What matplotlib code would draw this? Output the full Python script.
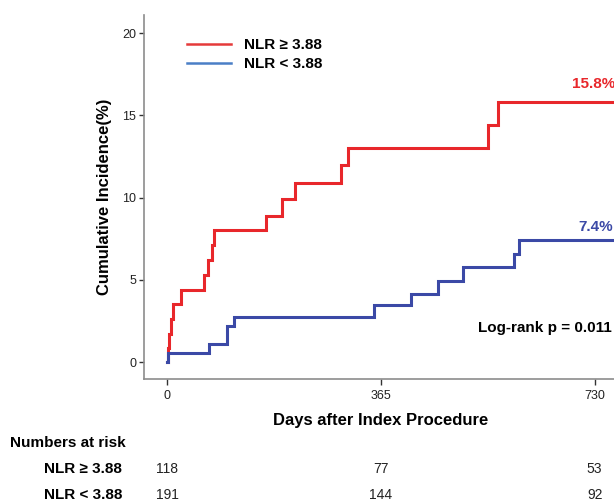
import matplotlib
matplotlib.use("Agg")
import matplotlib.pyplot as plt
from matplotlib.lines import Line2D

plt.rcParams['font.family'] = ['Liberation Sans', 'DejaVu Sans']

# step curves (days, cumulative incidence %)
high_days = [0, 1, 3, 6, 9, 23, 63, 70, 77, 79, 169, 195, 218, 296, 308, 548, 564, 770]
high_inc = [0, 0.85, 1.7, 2.6, 3.5, 4.4, 5.3, 6.2, 7.1, 8.0, 8.9, 9.9, 10.9, 12.0, 13.0, 14.4, 15.8, 15.8]
low_days = [0, 1, 71, 101, 113, 353, 416, 463, 505, 593, 601, 770]
low_inc = [0, 0.55, 1.1, 2.2, 2.75, 3.45, 4.15, 4.95, 5.75, 6.55, 7.4, 7.4]

groups = ["NLR \u2265 3.88", "NLR < 3.88"]
end_labels = ["15.8%", "7.4%"]
risk_times = [0, 365, 730]
risk_high = [118, 77, 53]
risk_low = [191, 144, 92]
p_text = "Log-rank p = 0.011"

RED = '#e8272b'
BLUE = '#3b49a6'

W, H = 614, 504


def fx(px):
    return px / W


def fy(py):
    return 1 - py / H


fig = plt.figure(figsize=(6.14, 5.04), dpi=100)
ax = fig.add_axes([fx(144), fy(379), fx(614) - fx(144), fy(15) - fy(379)])

ax.step(high_days, high_inc, where='post', color=RED, lw=2.2, solid_joinstyle='miter')
ax.step(low_days, low_inc, where='post', color=BLUE, lw=2.2, solid_joinstyle='miter')

ax.set_xlim(-40, 763)
ax.set_ylim(-1.03, 21.1)
ax.set_xticks(risk_times)
ax.set_yticks([0, 5, 10, 15, 20])

for s in ['top', 'right']:
    ax.spines[s].set_visible(False)
for s in ['left', 'bottom']:
    ax.spines[s].set_color('#8c8c8c')
    ax.spines[s].set_linewidth(1.2)

ax.tick_params(axis='y', direction='out', length=3.6, width=1, color='#333333',
               pad=2, labelsize=9, labelcolor='#222222')
ax.tick_params(axis='x', direction='out', length=4.3, width=1, color='#333333',
               pad=3.5, labelsize=9, labelcolor='#222222')

ax.set_ylabel("Cumulative Incidence(%)", fontsize=12, fontweight='bold')
ax.yaxis.set_label_coords((105 - 144) / 470, 0.5)
ax.yaxis.label.set_va('center')
ax.set_xlabel("Days after Index Procedure", fontsize=12, fontweight='bold')
ax.xaxis.set_label_coords((381 - 144) / 470, (379 - 420) / 364)
ax.xaxis.label.set_va('center')

# legend
handles = [Line2D([], [], color='#e53a3a', lw=1.8),
           Line2D([], [], color='#4a7fc6', lw=1.8)]
leg = ax.legend(handles, groups, loc='upper left', bbox_to_anchor=(fx(187), fy(38)),
                bbox_transform=fig.transFigure, frameon=False, borderpad=0,
                borderaxespad=0, handlelength=2.9, handletextpad=0.85,
                labelspacing=0.32, prop={'size': 11, 'weight': 'bold'})

# end labels and p value
ax.text(fx(572), fy(84), end_labels[0], transform=fig.transFigure, color=RED,
        fontsize=11, fontweight='bold', ha='left', va='center')
ax.text(fx(578), fy(227), end_labels[1], transform=fig.transFigure, color=BLUE,
        fontsize=11, fontweight='bold', ha='left', va='center')
ax.text(fx(612), fy(328), p_text, transform=fig.transFigure, color='black',
        fontsize=11, fontweight='bold', ha='right', va='center')

# numbers at risk
fig.text(fx(10), fy(443), "Numbers at risk", fontsize=11, fontweight='bold',
         ha='left', va='center')
trans = ax.get_xaxis_transform()
for label, counts, py in [(groups[0], risk_high, 469), (groups[1], risk_low, 495)]:
    fig.text(fx(122), fy(py), label, fontsize=11, fontweight='bold',
             ha='right', va='center')
    for t, n in zip(risk_times, counts):
        ax.text(t, (379 - py) / 364, str(n), transform=trans, fontsize=10,
                ha='center', va='center', color='#222222', clip_on=False)

fig.savefig("out.png", dpi=100)
